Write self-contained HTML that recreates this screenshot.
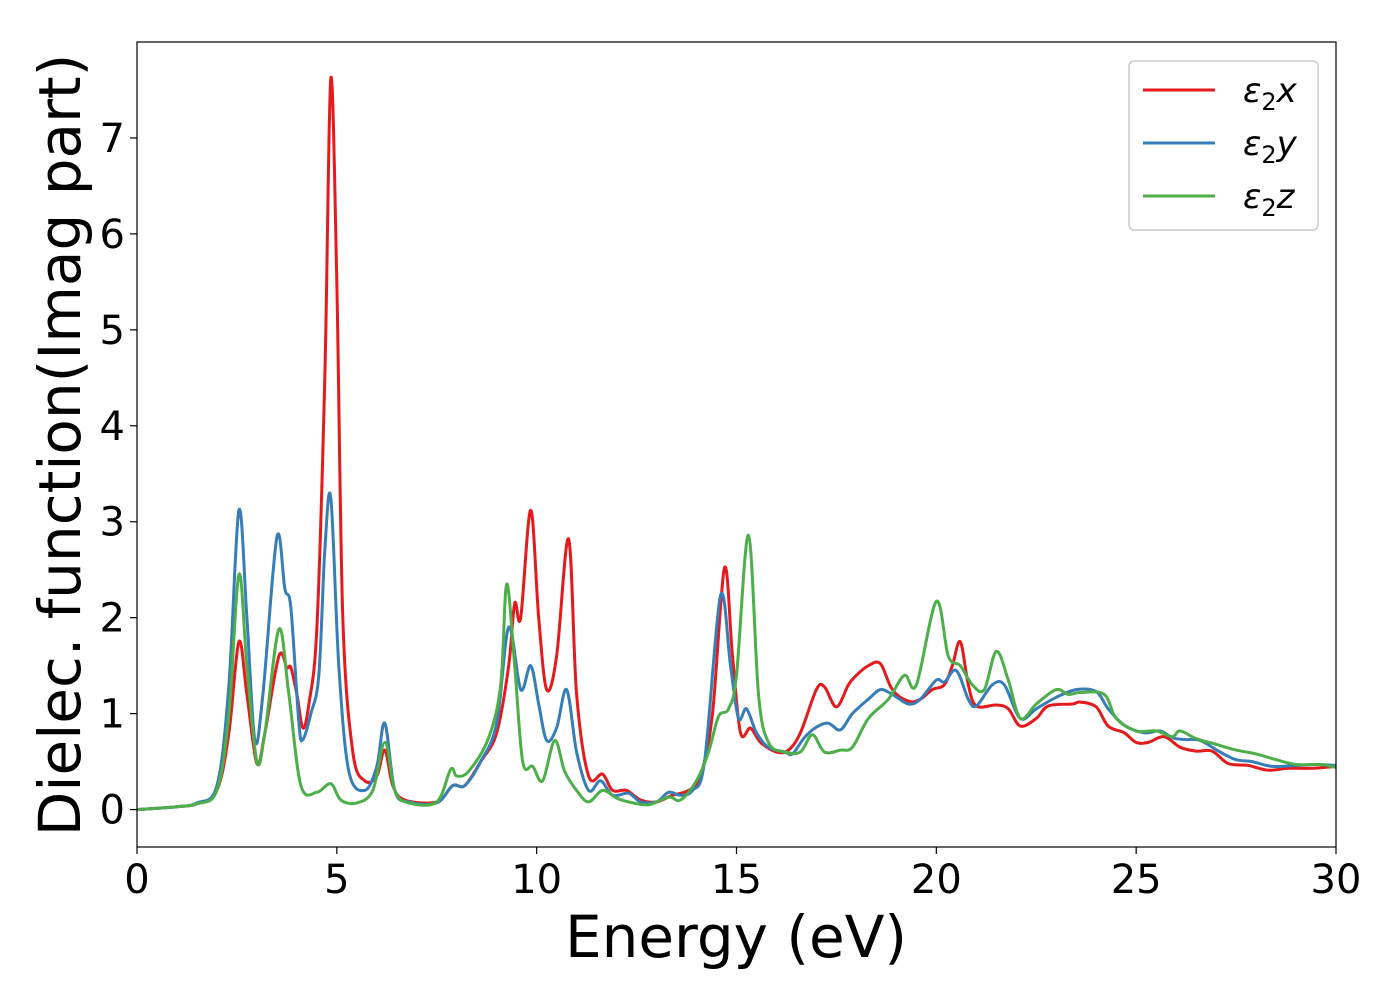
<!DOCTYPE html>
<html><head><meta charset="utf-8"><style>
body{margin:0;background:#fff;}
svg{display:block;font-family:"DejaVu Sans","Liberation Sans",sans-serif;}
</style></head><body>
<svg id="chart" width="1400" height="1000" viewBox="0 0 1400 1000">
<rect width="1400" height="1000" fill="#fff"/>
<g id="plot"></g>
<g id="axes"></g>
<text x="736" y="957" font-size="58" text-anchor="middle">Energy (eV)</text>
<text transform="translate(80,445) rotate(-90)" font-size="58" text-anchor="middle">Dielec. function(Imag part)</text>
<g>
<rect x="1129" y="61" width="189" height="169" rx="5" fill="#fff" stroke="#ccc" stroke-width="1.5"/>
<g><line x1="1143" y1="90" x2="1215" y2="90" stroke="#e41a1c" stroke-width="3"/><text x="1243" y="102" font-size="34" font-style="italic">ε<tspan font-size="24" dy="8" font-style="normal">2</tspan><tspan dy="-8">x</tspan></text></g>
<g><line x1="1143" y1="143" x2="1215" y2="143" stroke="#377eb8" stroke-width="3"/><text x="1243" y="155" font-size="34" font-style="italic">ε<tspan font-size="24" dy="8" font-style="normal">2</tspan><tspan dy="-8">y</tspan></text></g>
<g><line x1="1143" y1="196" x2="1215" y2="196" stroke="#4daf4a" stroke-width="3"/><text x="1243" y="208" font-size="34" font-style="italic">ε<tspan font-size="24" dy="8" font-style="normal">2</tspan><tspan dy="-8">z</tspan></text></g>
</g>
</svg>
<script>
const xTicks=[0,5,10,15,20,25,30];
const yTicks=[0,1,2,3,4,5,6,7];
const redE=[0,1,1.5,2,2.3,2.55,2.75,3.0,3.2,3.55,3.75,3.85,4.0,4.15,4.3,4.5,4.7,4.85,5.0,5.15,5.4,5.7,6.0,6.2,6.4,6.7,7.5,7.9,8.2,8.6,9.0,9.3,9.45,9.6,9.85,10.05,10.25,10.5,10.8,11.0,11.3,11.65,11.9,12.25,12.6,13.0,13.4,13.8,14.1,14.4,14.7,14.9,15.1,15.35,15.6,16.0,16.3,16.6,17.0,17.2,17.5,17.8,18.0,18.3,18.6,18.9,19.3,19.6,19.9,20.2,20.4,20.6,20.8,21.0,21.5,21.8,22.1,22.5,22.8,23.4,23.6,24.0,24.3,24.7,25.0,25.3,25.7,26.1,26.5,26.9,27.3,27.8,28.3,28.8,29.4,30];
const redV=[0,0.03,0.06,0.2,0.8,1.75,1.2,0.48,0.8,1.6,1.48,1.48,1.2,0.85,1.1,1.9,4.5,7.62,5.5,2.0,0.6,0.3,0.35,0.62,0.25,0.1,0.08,0.25,0.25,0.5,0.8,1.5,2.15,2.0,3.12,2.0,1.25,1.6,2.82,1.2,0.35,0.37,0.2,0.2,0.1,0.08,0.15,0.2,0.35,1.0,2.52,1.6,0.8,0.85,0.7,0.6,0.62,0.8,1.25,1.28,1.07,1.3,1.4,1.5,1.52,1.25,1.13,1.15,1.25,1.3,1.5,1.75,1.3,1.08,1.09,1.05,0.87,0.95,1.08,1.1,1.12,1.07,0.87,0.8,0.7,0.7,0.76,0.65,0.61,0.61,0.48,0.46,0.41,0.43,0.43,0.45];
const blueE=[0,1,1.5,2,2.3,2.55,2.75,2.95,3.15,3.5,3.7,3.85,4.05,4.15,4.35,4.55,4.7,4.85,5.05,5.3,5.7,6.0,6.2,6.45,6.8,7.5,7.9,8.2,8.6,9.0,9.3,9.6,9.85,10.05,10.25,10.5,10.75,11.0,11.3,11.6,11.9,12.3,12.6,13.0,13.3,13.6,13.9,14.2,14.6,14.85,15.05,15.25,15.5,15.8,16.2,16.4,16.7,17.0,17.3,17.6,17.9,18.3,18.6,18.9,19.3,19.6,20.0,20.2,20.5,20.8,21.0,21.4,21.7,22.1,22.5,23.0,23.5,24.0,24.3,24.7,25.2,25.6,25.9,26.2,26.6,27.1,27.5,27.9,28.4,29.0,29.5,30];
const blueV=[0,0.03,0.07,0.25,1.3,3.12,2.0,0.72,1.2,2.84,2.3,2.1,0.9,0.73,1.0,1.4,2.7,3.25,1.5,0.4,0.2,0.45,0.9,0.2,0.08,0.07,0.25,0.25,0.5,0.9,1.9,1.25,1.5,1.1,0.72,0.85,1.25,0.6,0.2,0.3,0.15,0.17,0.08,0.08,0.18,0.15,0.2,0.5,2.23,1.5,0.95,1.05,0.8,0.65,0.6,0.58,0.75,0.86,0.9,0.83,1.0,1.15,1.25,1.2,1.1,1.15,1.35,1.33,1.45,1.15,1.08,1.3,1.3,0.95,1.05,1.17,1.25,1.23,1.05,0.88,0.8,0.82,0.75,0.73,0.72,0.6,0.52,0.5,0.45,0.46,0.47,0.46];
const greenE=[0,1,1.5,2,2.3,2.55,2.75,3.0,3.2,3.55,3.8,4.1,4.5,4.85,5.1,5.5,5.9,6.2,6.45,6.8,7.5,7.85,8.0,8.3,8.8,9.1,9.25,9.45,9.65,9.9,10.15,10.45,10.7,11.0,11.3,11.65,12.0,12.3,12.8,13.3,13.6,14.0,14.3,14.55,14.8,15.0,15.3,15.55,15.8,16.2,16.6,16.9,17.2,17.6,17.9,18.3,18.8,19.2,19.5,20.0,20.3,20.6,20.9,21.2,21.5,21.8,22.1,22.5,23.0,23.3,23.6,24.2,24.5,25.0,25.5,25.9,26.1,26.5,27.0,27.5,28.0,28.5,29.0,29.6,30];
const greenV=[0,0.03,0.06,0.2,1.0,2.45,1.5,0.5,0.8,1.88,1.2,0.25,0.18,0.27,0.1,0.07,0.2,0.7,0.2,0.07,0.08,0.42,0.35,0.4,0.75,1.3,2.35,1.5,0.5,0.45,0.3,0.72,0.4,0.2,0.08,0.2,0.12,0.08,0.05,0.13,0.1,0.3,0.6,0.97,1.05,1.4,2.86,1.2,0.7,0.6,0.6,0.78,0.6,0.62,0.65,0.95,1.15,1.4,1.3,2.17,1.6,1.5,1.3,1.25,1.65,1.35,0.95,1.1,1.25,1.2,1.22,1.2,0.95,0.82,0.82,0.76,0.82,0.74,0.68,0.62,0.58,0.52,0.47,0.47,0.44];

const X0=137,X1=1336,Y0=42,Y1=847,xMin=0,xMax=30,yMin=-0.39,yMax=8.0;
function sx(v){return X0+(v-xMin)/(xMax-xMin)*(X1-X0);}
function sy(v){return Y1-(v-yMin)/(yMax-yMin)*(Y1-Y0);}
const NS="http://www.w3.org/2000/svg";
const plot=document.getElementById('plot'),axes=document.getElementById('axes');
function smoothPath(E,V){
  const p=E.map((e,i)=>[sx(e),sy(V[i])]);
  let d='M'+p[0][0].toFixed(1)+','+p[0][1].toFixed(1);
  for(let i=0;i<p.length-1;i++){
    const a=p[Math.max(0,i-1)],b=p[i],c=p[i+1],e=p[Math.min(p.length-1,i+2)];
    const c1=[b[0]+(c[0]-a[0])/6,b[1]+(c[1]-a[1])/6];
    const c2=[c[0]-(e[0]-b[0])/6,c[1]-(e[1]-b[1])/6];
    c1[0]=Math.min(Math.max(c1[0],b[0]),c[0]);c2[0]=Math.min(Math.max(c2[0],b[0]),c[0]);
    d+=' C'+c1[0].toFixed(1)+','+c1[1].toFixed(1)+' '+c2[0].toFixed(1)+','+c2[1].toFixed(1)+' '+c[0].toFixed(1)+','+c[1].toFixed(1);
  }
  return d;
}
const series=[[redE,redV,'#e41a1c','series-eps2x'],[blueE,blueV,'#377eb8','series-eps2y'],[greenE,greenV,'#4daf4a','series-eps2z']];
series.forEach(s=>{
  const path=document.createElementNS(NS,'path');
  path.setAttribute('d',smoothPath(s[0],s[1]));
  path.setAttribute('fill','none');path.setAttribute('stroke',s[2]);path.setAttribute('stroke-width','3');
  path.setAttribute('stroke-linejoin','round');
  
  
  plot.appendChild(path);
});
const cp=document.createElementNS(NS,'clipPath');cp.id='clip';
const cr=document.createElementNS(NS,'rect');cr.setAttribute('x',X0);cr.setAttribute('y',Y0);cr.setAttribute('width',X1-X0);cr.setAttribute('height',Y1-Y0);
cp.appendChild(cr);document.getElementById('chart').insertBefore(cp,plot);plot.setAttribute('clip-path','url(#clip)');
const frame=document.createElementNS(NS,'rect');
frame.setAttribute('x',X0);frame.setAttribute('y',Y0);frame.setAttribute('width',X1-X0);frame.setAttribute('height',Y1-Y0);
frame.setAttribute('fill','none');frame.setAttribute('stroke','#000');frame.setAttribute('stroke-width','1.2');


axes.appendChild(frame);
xTicks.forEach(t=>{
  const l=document.createElementNS(NS,'line');
  l.setAttribute('x1',sx(t));l.setAttribute('x2',sx(t));l.setAttribute('y1',Y1);l.setAttribute('y2',Y1+7);l.setAttribute('stroke','#000');l.setAttribute('stroke-width','1.2');
  
  
  axes.appendChild(l);
  const tx=document.createElementNS(NS,'text');
  tx.setAttribute('x',sx(t));tx.setAttribute('y',893);tx.setAttribute('font-size','40');tx.setAttribute('text-anchor','middle');
  tx.textContent=t;
  
  
  axes.appendChild(tx);
});
yTicks.forEach(t=>{
  const l=document.createElementNS(NS,'line');
  l.setAttribute('x1',X0-7);l.setAttribute('x2',X0);l.setAttribute('y1',sy(t));l.setAttribute('y2',sy(t));l.setAttribute('stroke','#000');l.setAttribute('stroke-width','1.2');
  
  
  axes.appendChild(l);
  const tx=document.createElementNS(NS,'text');
  tx.setAttribute('x',X0-12);tx.setAttribute('y',sy(t)+14);tx.setAttribute('font-size','40');tx.setAttribute('text-anchor','end');
  tx.textContent=t;
  
  
  axes.appendChild(tx);
});
</script>
</body></html>
